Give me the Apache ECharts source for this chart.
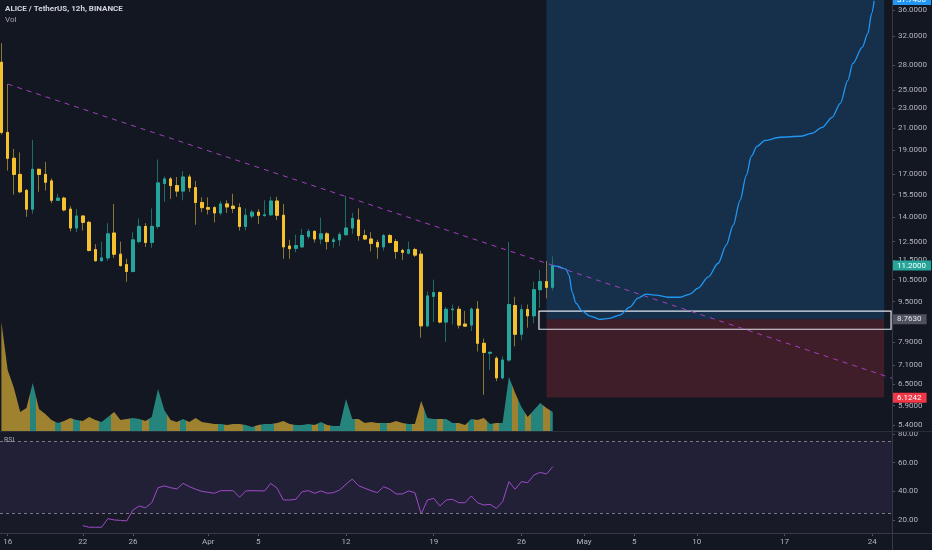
<!DOCTYPE html>
<html><head><meta charset="utf-8">
<script src="https://cdn.jsdelivr.net/npm/echarts@6/dist/echarts.min.js"></script>
<style>html,body{margin:0;padding:0;background:#131722;}#c{width:932px;height:550px;}</style>
</head><body><div id="c"></div>
<script>
// 12h candles, slot 0 = Mar 15 12:00, slot 1 = Mar 16 00:00, ...
const opens  = [28.4,20.6,18.3,17.0,15.8,14.5,17.4,17.0,16.5,15.1,15.25,14.5,13.3,14.05,13.65,12.05,11.45,11.6,13.0,11.8,11.25,10.9,12.5,13.4,12.45,13.4,16.3,16.65,16.15,15.75,16.8,16.0,14.95,14.6,14.6,14.25,14.85,14.7,14.6,13.4,14.05,14.3,14.08,14.13,15.05,14.1,12.25,12.12,12.2,12.8,13.1,12.65,12.95,12.5,12.6,12.9,13.3,13.8,12.85,12.65,12.45,12.2,12.85,12.5,12.0,11.85,12.05,11.8,8.5,9.73,9.9,8.65,9.15,9.17,8.57,8.53,9.18,7.85,7.5,7.33,6.7,7.27,9.33,8.18,9.16,8.9,10.03,10.41,10.14];
const closes = [20.6,18.3,17.0,15.7,14.5,17.4,17.0,16.4,15.1,15.25,14.45,13.3,14.05,13.65,12.0,11.45,11.6,12.95,11.8,11.2,10.9,12.6,13.4,12.45,13.4,16.35,16.65,16.15,15.75,16.8,16.0,14.95,14.6,14.5,14.25,14.85,14.65,14.55,13.4,14.1,14.3,14.1,14.13,15.05,14.1,12.2,12.1,12.28,12.85,13.1,12.65,12.95,12.5,12.6,12.9,13.3,13.9,12.85,12.65,12.4,12.2,12.85,12.45,11.95,11.9,12.05,11.75,8.5,9.75,9.9,8.65,9.17,9.18,8.53,8.49,9.18,7.85,7.53,7.53,6.7,7.27,9.37,8.18,9.16,8.9,10.03,10.41,10.14,11.2];
const lows   = [20.4,17.3,15.5,15.6,14.0,14.2,15.7,15.8,14.9,15.05,14.35,13.1,13.05,13.15,11.95,11.4,11.4,11.45,11.6,11.15,10.4,10.85,12.4,12.2,12.15,13.25,15.0,15.2,15.35,15.1,15.7,13.5,14.3,14.15,13.65,14.1,14.25,14.25,13.15,13.15,13.9,13.55,14.0,14.05,13.8,11.55,11.55,11.9,12.15,12.65,12.45,12.35,12.05,12.15,12.25,12.85,12.95,12.55,12.6,11.95,11.55,12.0,12.4,11.55,11.5,11.8,11.65,8.05,8.45,8.65,8.6,7.9,8.55,8.4,8.47,8.3,7.56,6.2,6.95,6.6,6.65,7.21,7.74,7.96,8.43,8.6,9.23,9.64,10.0];
const highs  = [31.0,25.7,19.1,18.8,15.9,19.9,17.45,18.0,16.7,15.55,15.35,14.7,14.5,14.1,13.75,12.35,12.5,13.6,14.85,12.5,11.55,13.05,13.9,13.6,14.55,18.2,16.85,16.8,16.8,17.25,17.0,16.5,15.3,15.3,14.7,15.05,15.1,15.55,14.9,14.55,14.45,14.5,15.1,15.35,15.35,14.85,12.6,12.9,13.25,13.25,13.15,13.95,13.05,12.75,13.05,15.4,14.25,14.55,13.2,13.05,12.6,12.95,12.95,12.65,12.1,12.5,12.15,12.0,9.95,10.5,9.95,9.27,9.37,9.3,9.1,9.25,9.52,8.02,7.56,7.39,7.39,12.48,9.71,9.37,9.37,10.41,10.98,11.44,11.68];
const volumes = [10.9,6.1,4.3,1.9,2.3,4.8,2.2,1.7,1.1,0.8,1.0,1.3,1.1,1.0,1.4,1.1,0.9,1.4,1.9,1.1,1.2,1.3,1.2,1.0,1.4,4.2,2.1,1.1,0.9,1.2,0.9,1.3,0.9,0.8,0.7,0.7,0.6,0.7,0.7,0.6,0.4,0.6,0.7,0.7,0.8,1.0,0.7,0.6,0.6,0.7,0.6,0.9,0.6,0.5,0.5,3.2,1.2,1.2,0.8,0.9,0.8,0.8,0.8,1.0,0.8,0.7,0.7,3.0,1.3,1.2,1.2,1.2,0.8,0.8,0.6,1.2,1.1,1.3,0.7,0.8,0.8,5.4,3.8,2.4,1.4,2.1,2.8,2.3,1.9];
const rsiStartSlot = 13;
const rsiValues = [16.1,15.0,15.0,15.0,21.0,20.1,19.8,19.4,27.0,29.8,28.6,32.1,42.6,43.8,42.6,41.7,45.6,43.3,41.5,40.0,39.4,38.7,40.5,40.5,40.5,35.9,40.3,40.5,40.4,40.3,45.6,42.2,34.0,34.0,34.5,39.8,40.5,38.7,40.3,38.7,39.1,41.0,45.0,48.6,44.0,42.2,40.5,39.1,43.3,41.5,38.2,38.2,40.3,39.1,24.3,34.0,35.2,29.8,34.0,34.5,32.1,32.1,36.8,32.1,30.5,31.0,28.2,32.8,46.8,41.5,46.8,46.1,51.4,53.3,52.1,57.2];
// projected path (slot, price)
const projSlots  = [88,88.8,90.1,90.6,91.1,91.7,92.7,94,95.5,97.1,98.7,100.3,101.6,102.9,104.5,106.4,108.3,109.9,111.2,112.8,114.4,115.7,116.8,117.9,118.9,119.7,120.6,121.9,124.3,127.5,129.4,131,132.6,133.9,135.1,135.9,137.4,138.3,138.9,139.3];
const projPrices = [11.2,11.16,11.02,10.72,9.92,9.43,9.09,8.89,8.76,8.80,8.93,9.26,9.65,9.83,9.78,9.69,9.69,9.83,10.10,10.62,11.32,12.30,13.47,15.10,16.93,18.47,19.33,19.87,20.15,20.24,20.52,21.09,22.07,23.53,26.14,28.25,30.4,32.4,35.5,37.6];
const trendSlots = [1, 142.15];
const trendPrices = [25.7, 6.69];
const targetPrice = 37.74, entryPrice = 8.763, stopPrice = 6.1242, lastPrice = 11.2;
const toolSlots = [87, 140.9];
const entryBoxSlots = [85.8, 142];
const entryBoxPrices = [9.09, 8.37];
const priceTicks = [36,32,28,25,23,21,19,17,15.5,14,12.5,11.5,10.5,9.5,7.9,7.1,6.5,5.9,5.4];
const rsiTicks = [20,40,60,80];
const rsiLevels = [25,75];
const dateTickSlots = [1,13,21,33,41,55,69,83,93,101,111,125,139];
const dateTickLabels = ['16','22','26','Apr','5','12','19','26','May','5','10','17','24'];

const N = opens.length;
const slots = opens.map((_, i) => i);
const candleData = slots.map(i => [i, opens[i], closes[i], lows[i], highs[i]]);
const bodyData = slots.map(i => [i, opens[i], closes[i], Math.min(opens[i], closes[i]), Math.max(opens[i], closes[i])]);
const isUp = slots.map(i => closes[i] >= opens[i]);
const volData = slots.map(i => [i, volumes[i]]);
const rsiData = rsiValues.map((v, k) => [rsiStartSlot + k, v]);
const projData = projSlots.map((s, k) => [s, projPrices[k]]);
const trendData = trendSlots.map((s, k) => [s, trendPrices[k]]);

const UP = '#26a69a', DOWN = '#f5c22e', UPW = '#1f6b65', DOWNW = '#8c7634', VUP = '#25857c', VDOWN = '#9e8230';
const TXT = '#b2b5be', FONT = 'Roboto, sans-serif';
const X_MIN = -0.2235, X_MAX = 142.15;

const stops = [];
for (let i = 0; i < N; i++) {
  const c = isUp[i] ? VUP : VDOWN;
  stops.push({offset: Math.max(0, (i - 0.5) / (N - 1)), color: c});
  stops.push({offset: Math.min(1, (i + 0.5) / (N - 1)), color: c});
}
const volGrad = new echarts.graphic.LinearGradient(0, 0, 1, 0, stops);

const xBase = {type: 'value', min: X_MIN, max: X_MAX, axisLabel: {show: false}, axisTick: {show: false}, axisLine: {show: false, onZero: false}, splitLine: {show: false}};
const badge = (v, bg, fg) => ({yAxis: v, label: {show: true, position: 'end', distance: 1, formatter: () => v.toFixed(4), backgroundColor: bg, color: fg, fontSize: 8, fontFamily: FONT, padding: [1, 5, 1, 4]}, lineStyle: {color: 'rgba(0,0,0,0)', width: 1}});

const chart = echarts.init(document.getElementById('c'), null, {renderer: 'canvas'});
chart.setOption({
  backgroundColor: '#131722',
  animation: false,
  grid: [
    {left: 0, right: 40, top: 0, height: 431, outerBoundsMode: 'none'},
    {left: 0, right: 40, top: 300, height: 131, outerBoundsMode: 'none'},
    {left: 0, right: 40, top: 432, height: 101, show: true, backgroundColor: '#181a27', borderWidth: 0, outerBoundsMode: 'none'}
  ],
  xAxis: [
    Object.assign({}, xBase, {gridIndex: 0}),
    Object.assign({}, xBase, {gridIndex: 1}),
    Object.assign({}, xBase, {gridIndex: 2,
      axisTick: {show: true, customValues: dateTickSlots, length: 3, lineStyle: {color: '#50535e'}},
      axisLabel: {show: true, customValues: dateTickSlots, formatter: v => dateTickLabels[dateTickSlots.indexOf(v)], color: TXT, fontSize: 8, fontFamily: FONT, margin: 5}})
  ],
  yAxis: [
    {type: 'log', gridIndex: 0, position: 'right', min: 5.254, max: 37.76, splitLine: {show: false}, axisLine: {show: false, onZero: false},
      axisTick: {show: true, customValues: priceTicks, length: 3, lineStyle: {color: '#50535e'}},
      axisLabel: {customValues: priceTicks, formatter: v => Number(v).toFixed(4), color: TXT, fontSize: 8, fontFamily: FONT, margin: 6}},
    {type: 'value', gridIndex: 1, min: 0, max: 13.1, show: false, splitLine: {show: false}},
    {type: 'value', gridIndex: 2, position: 'right', min: 11.0, max: 81.4, splitLine: {show: false}, axisLine: {show: false, onZero: false},
      axisTick: {show: true, customValues: rsiTicks, length: 3, lineStyle: {color: '#50535e'}},
      axisLabel: {customValues: rsiTicks, formatter: v => Number(v).toFixed(2), color: TXT, fontSize: 8, fontFamily: FONT, margin: 6}}
  ],
  series: [
    {type: 'line', name: 'vol', xAxisIndex: 1, yAxisIndex: 1, data: volData, symbol: 'none', lineStyle: {width: 0}, areaStyle: {color: volGrad, opacity: 1}, z: 1, silent: true},
    {type: 'line', name: 'tool', xAxisIndex: 0, yAxisIndex: 0, data: [[toolSlots[0], entryPrice]], symbol: 'none', lineStyle: {opacity: 0}, z: 1, silent: true,
      markArea: {silent: true, data: [
        [{xAxis: toolSlots[0], yAxis: targetPrice, itemStyle: {color: 'rgba(33,150,243,0.2)'}}, {xAxis: toolSlots[1], yAxis: entryPrice}],
        [{xAxis: toolSlots[0], yAxis: entryPrice, itemStyle: {color: 'rgba(242,54,69,0.2)'}}, {xAxis: toolSlots[1], yAxis: stopPrice}]
      ]}},
    {type: 'candlestick', name: 'wick', xAxisIndex: 0, yAxisIndex: 0, data: candleData, encode: {x: 0, y: [1, 2, 3, 4]}, barWidth: 3, z: 2,
      itemStyle: {color: UPW, color0: DOWNW, borderColor: UPW, borderColor0: DOWNW, borderWidth: 1}},
    {type: 'candlestick', name: 'body', xAxisIndex: 0, yAxisIndex: 0, data: bodyData, encode: {x: 0, y: [1, 2, 3, 4]}, barWidth: 3, z: 3,
      itemStyle: {color: UP, color0: DOWN, borderColor: UP, borderColor0: DOWN, borderWidth: 1}},
    {type: 'line', name: 'trend', xAxisIndex: 0, yAxisIndex: 0, data: trendData, symbol: 'none', lineStyle: {color: '#a33fbd', width: 1, type: [5, 5]}, z: 4, silent: true},
    {type: 'line', name: 'proj', xAxisIndex: 0, yAxisIndex: 0, data: projData, symbol: 'none', smooth: 0.3, smoothMonotone: 'x', lineStyle: {color: '#2196f3', width: 1.3}, z: 5, silent: true,
      markArea: {silent: true, data: [
        [{xAxis: entryBoxSlots[0], yAxis: entryBoxPrices[0], itemStyle: {color: 'rgba(0,0,0,0)', borderColor: '#e0e3eb', borderWidth: 1.2}}, {xAxis: entryBoxSlots[1], yAxis: entryBoxPrices[1]}]
      ]}},
    {type: 'line', name: 'badges', xAxisIndex: 0, yAxisIndex: 0, data: [[toolSlots[0], lastPrice]], symbol: 'none', lineStyle: {color: 'rgba(0,0,0,0)'}, z: 20, silent: true,
      markLine: {silent: true, symbol: 'none', z: 20, data: [
        badge(targetPrice, '#2196f3', '#ffffff'),
        badge(lastPrice, '#26a69a', '#ffffff'),
        badge(entryPrice, '#50535e', '#e0e3eb'),
        badge(stopPrice, '#f23645', '#ffffff')
      ]}},
    {type: 'line', name: 'rsi', xAxisIndex: 2, yAxisIndex: 2, data: rsiData, symbol: 'none', lineStyle: {color: '#9d4bc6', width: 1}, z: 3, silent: true,
      markArea: {silent: true, data: [[{yAxis: rsiLevels[0], itemStyle: {color: 'rgba(126,87,194,0.1)'}}, {yAxis: rsiLevels[1]}]]},
      markLine: {silent: true, symbol: 'none', label: {show: false}, lineStyle: {color: '#787b86', type: [3, 3], width: 1}, data: rsiLevels.map(v => ({yAxis: v}))}}
  ],
  graphic: [
    {type: 'line', shape: {x1: 0, y1: 431.5, x2: 932, y2: 431.5}, style: {stroke: '#2a2e39', lineWidth: 1}, z: 10},
    {type: 'line', shape: {x1: 0, y1: 533.5, x2: 932, y2: 533.5}, style: {stroke: '#363a45', lineWidth: 1}, z: 10},
    {type: 'line', shape: {x1: 892.5, y1: 0, x2: 892.5, y2: 550}, style: {stroke: '#363a45', lineWidth: 1}, z: 10},
    {type: 'text', left: 5, top: 5, style: {text: 'ALICE / TetherUS, 12h, BINANCE', fill: '#d1d4dc', fontSize: 8, fontWeight: 'bold', fontFamily: FONT}, z: 10},
    {type: 'text', left: 5, top: 16, style: {text: 'Vol', fill: '#a3a6af', fontSize: 8, fontFamily: FONT}, z: 10},
    {type: 'text', left: 4, top: 437, style: {text: 'RSI', fill: '#a3a6af', fontSize: 7, fontFamily: FONT}, z: 10}
  ]
});
</script></body></html>
